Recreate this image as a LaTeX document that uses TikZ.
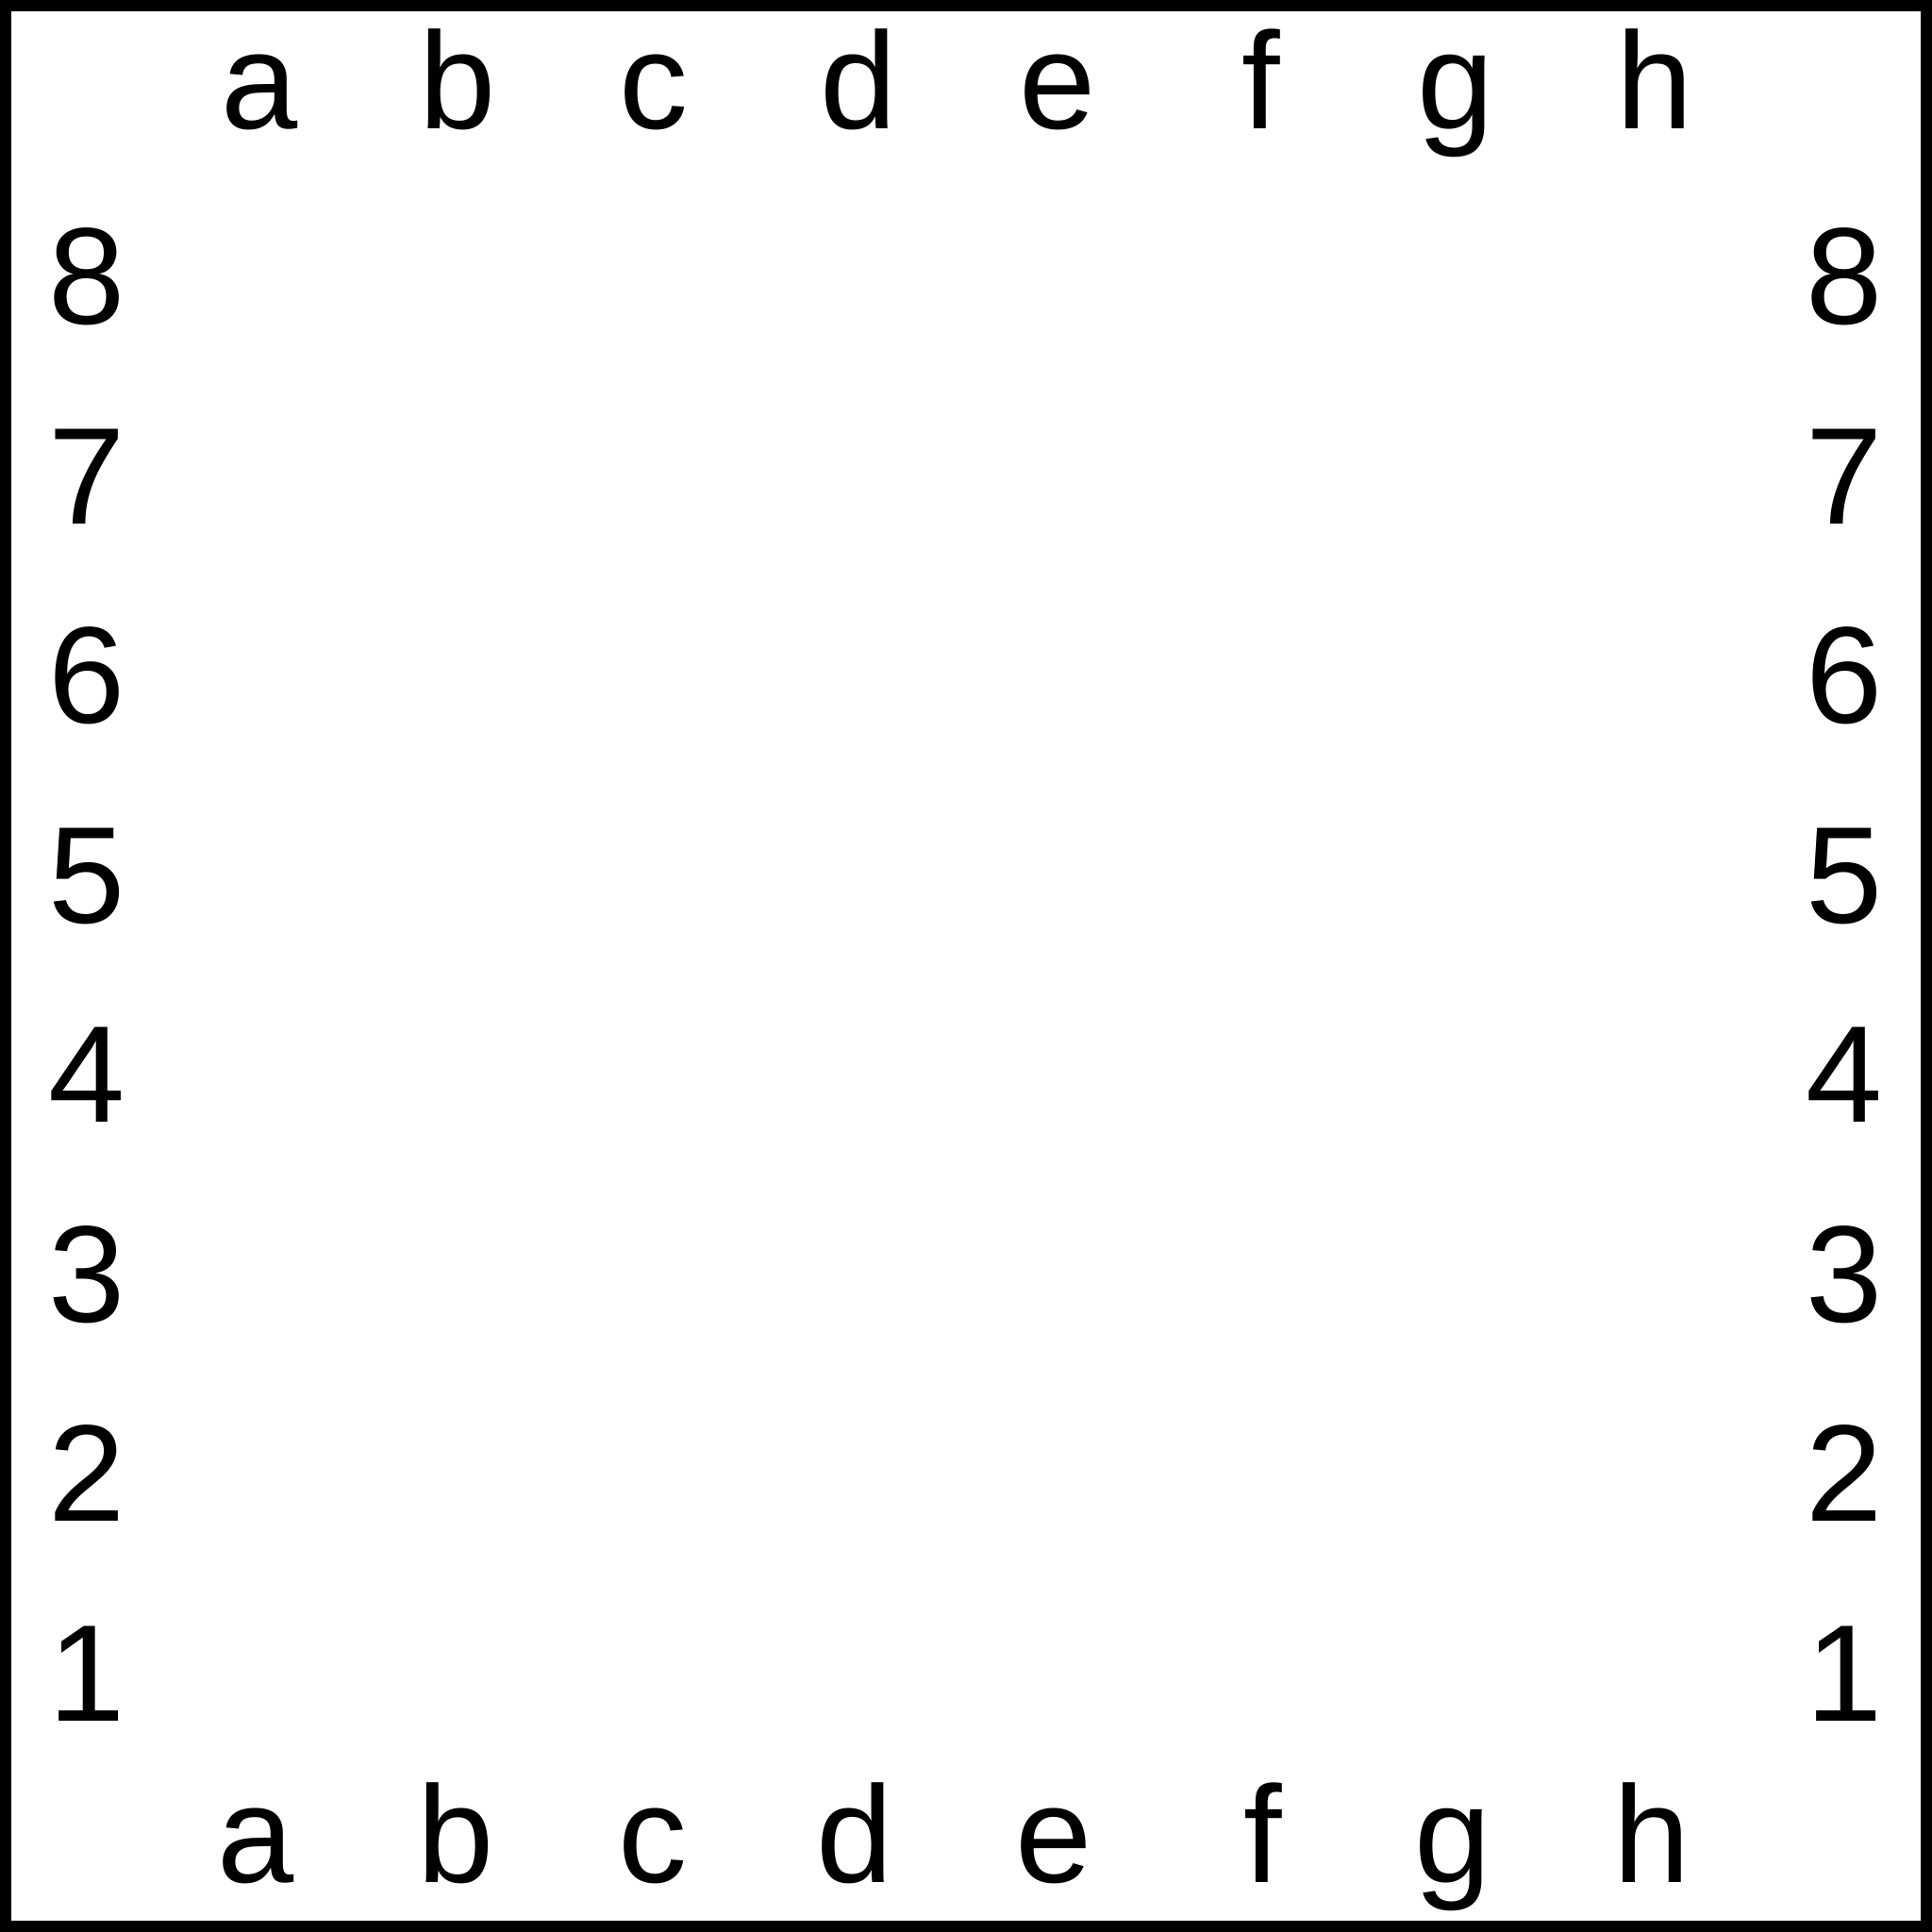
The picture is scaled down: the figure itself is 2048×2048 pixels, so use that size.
\documentclass[tikz,border=0pt]{standalone}
\usepackage{fontspec}
\setmainfont{Liberation Sans}
\begin{document}
\begin{tikzpicture}[x=1pt,y=-1pt,
  lbl/.style={inner sep=0pt,anchor=base,font=\fontsize{146}{175}\selectfont}]
\useasboundingbox (0,0) rectangle (2048,2048);
\draw[line width=12pt] (6,6) rectangle (2042,2042);
\foreach \l/\xt/\xb in {a/275/271.5,b/485.5/483,c/692.5/692,d/910/906.5,e/1121/1117.5,f/1337/1338.5,g/1543/1540.5,h/1754/1751.5}{
  \node[lbl] (top\l) at (\xt,136) {\l};
  \node[lbl] (bot\l) at (\xb,1995) {\l};
}
\foreach \n [count=\i from 0] in {8,7,6,5,4,3,2,1}{
  \node[lbl] (left\n) at (92,343.5+211.5*\i) {\n};
  \node[lbl] (right\n) at (1955,343.5+211.5*\i) {\n};
}
\end{tikzpicture}
\end{document}
